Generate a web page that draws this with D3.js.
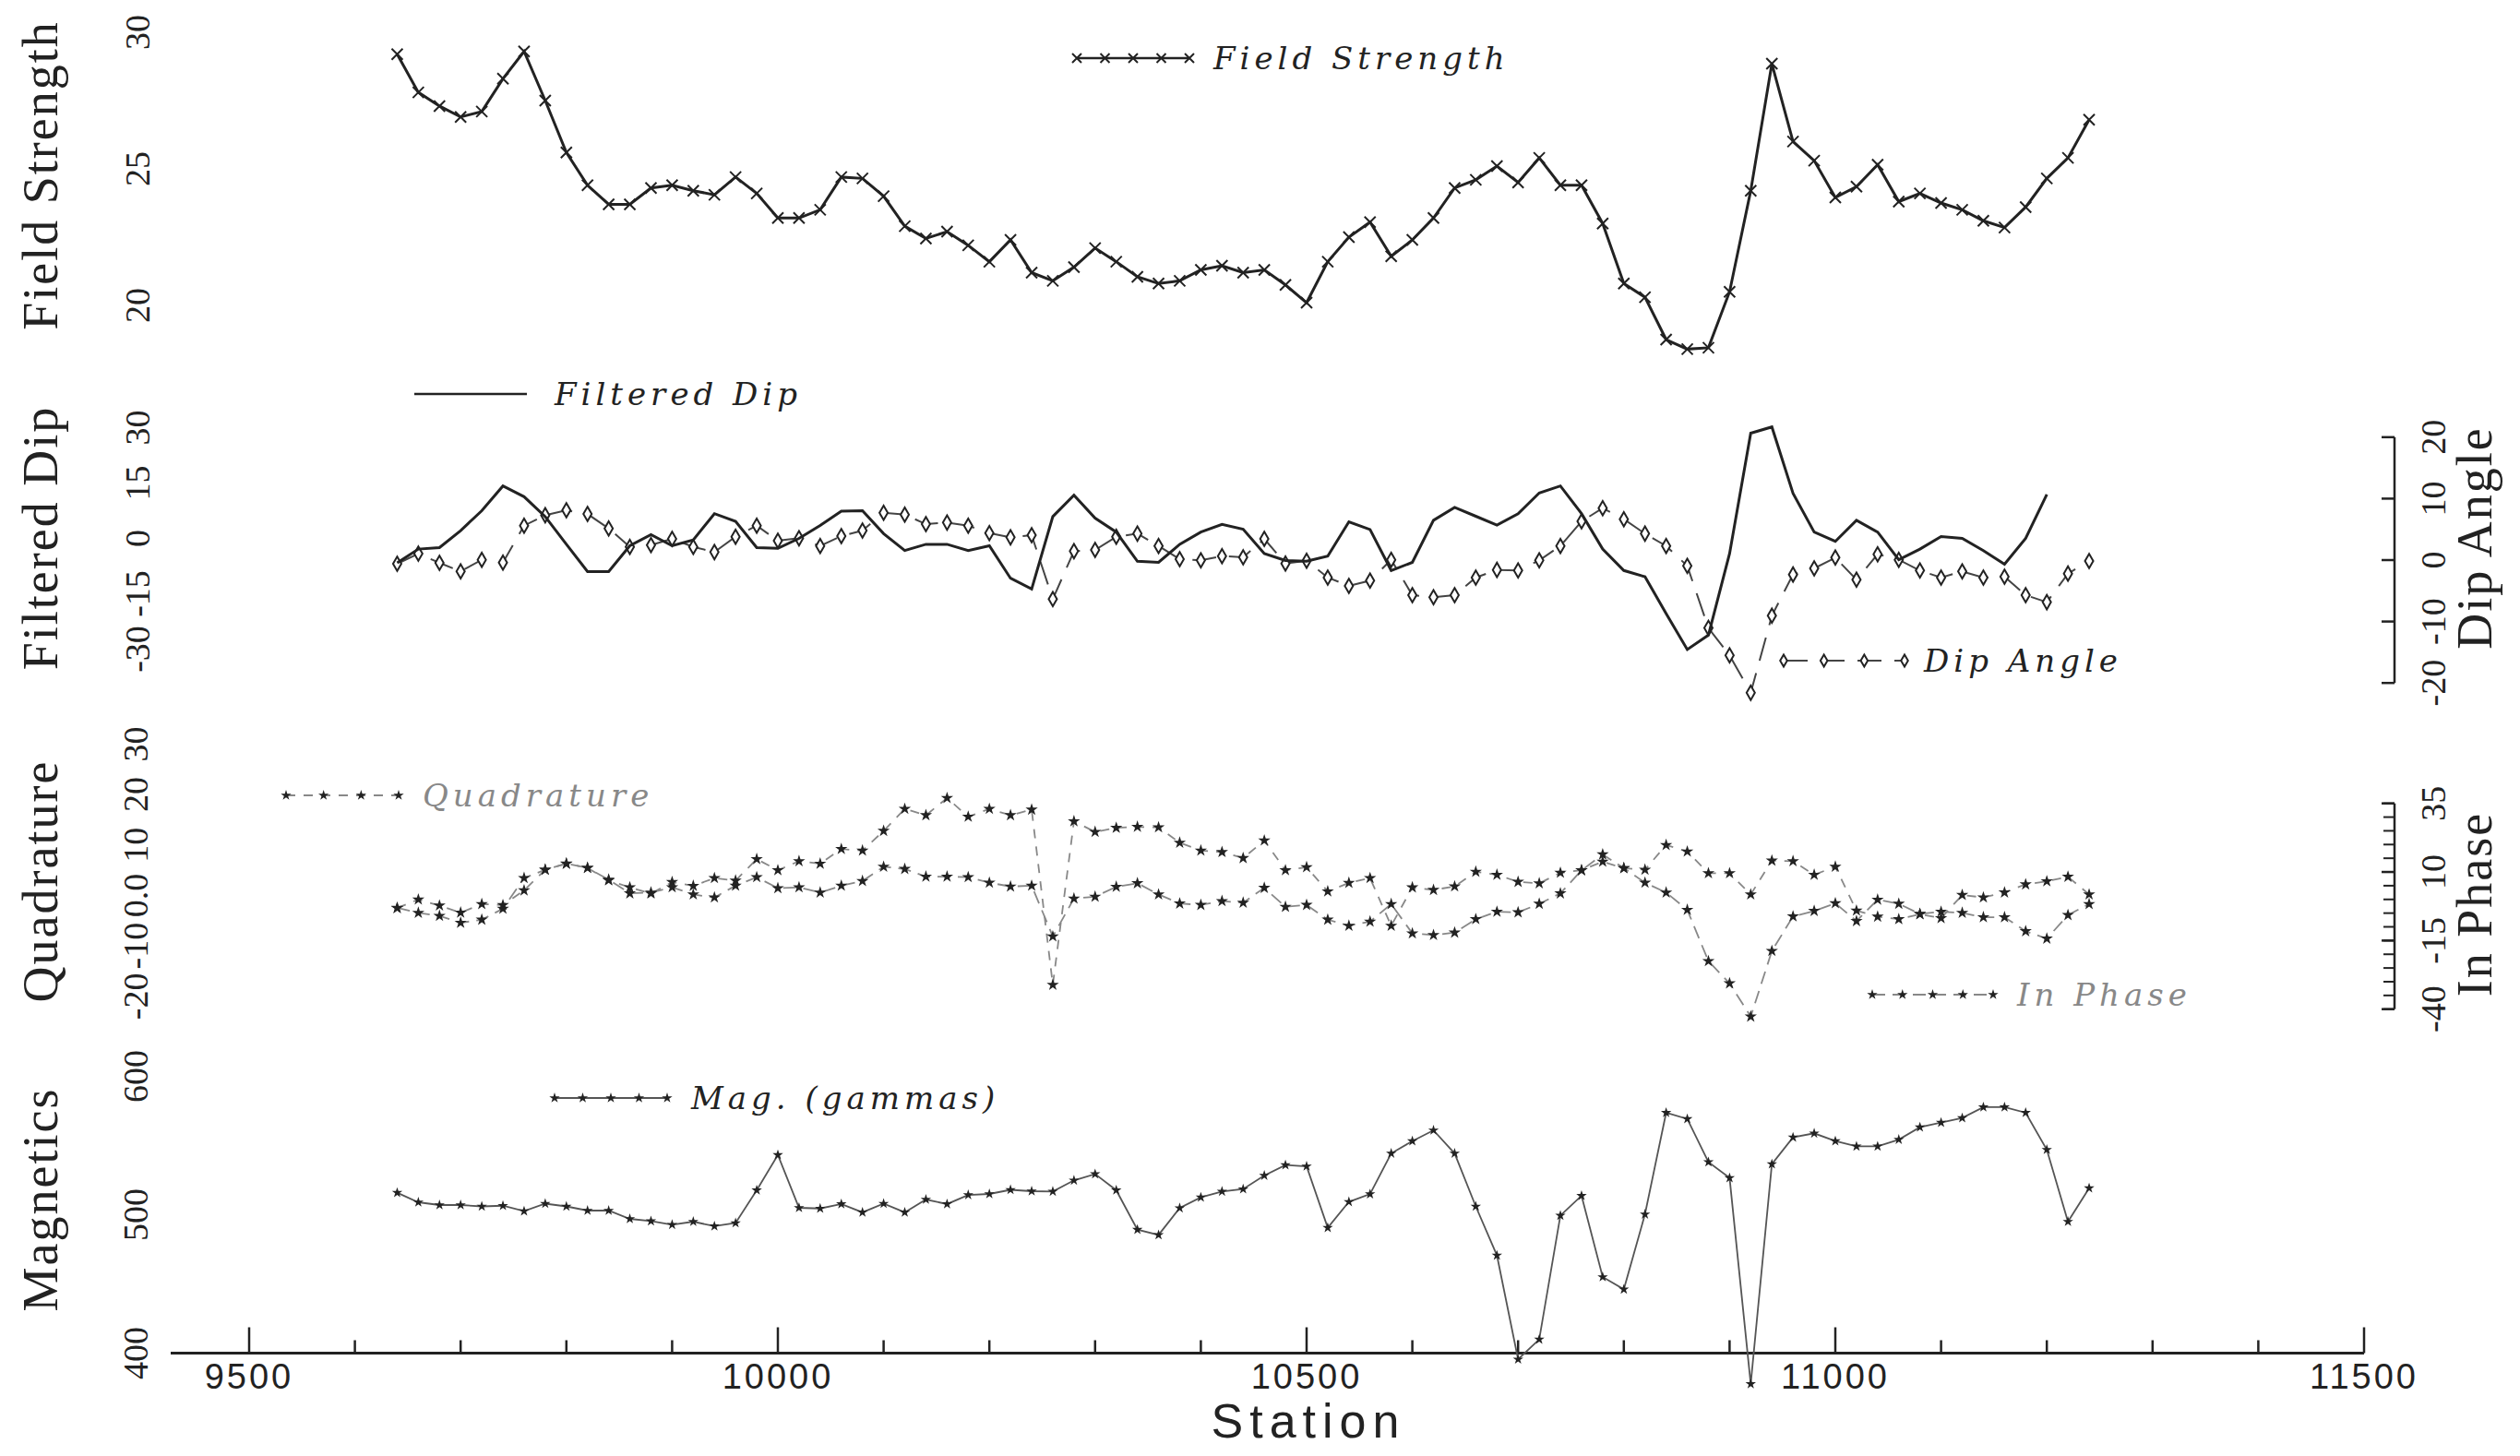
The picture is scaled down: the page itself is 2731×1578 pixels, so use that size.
<!DOCTYPE html>
<html>
<head>
<meta charset="utf-8">
<script src="https://cdn.jsdelivr.net/npm/d3@7"></script>
<style>
  body { margin: 0; background: #fff; }
  svg { display: block; }
</style>
</head>
<body>
<div id="chart"></div>
<script>
// stations along the survey line
const stations = [9640, 9660, 9680, 9700, 9720, 9740, 9760, 9780, 9800, 9820,
  9840, 9860, 9880, 9900, 9920, 9940, 9960, 9980, 10000, 10020,
  10040, 10060, 10080, 10100, 10120, 10140, 10160, 10180, 10200, 10220,
  10240, 10260, 10280, 10300, 10320, 10340, 10360, 10380, 10400, 10420,
  10440, 10460, 10480, 10500, 10520, 10540, 10560, 10580, 10600, 10620,
  10640, 10660, 10680, 10700, 10720, 10740, 10760, 10780, 10800, 10820,
  10840, 10860, 10880, 10900, 10920, 10940, 10960, 10980, 11000, 11020,
  11040, 11060, 11080, 11100, 11120, 11140, 11160, 11180, 11200, 11220, 11240];

const fieldStrength = [29.2, 27.8, 27.3, 26.9, 27.1, 28.3, 29.3, 27.5, 25.6, 24.4,
  23.7, 23.7, 24.3, 24.4, 24.2, 24.05, 24.7, 24.1, 23.2, 23.2,
  23.5, 24.7, 24.65, 24.0, 22.9, 22.45, 22.7, 22.2, 21.6, 22.4,
  21.2, 20.9, 21.4, 22.1, 21.6, 21.05, 20.8, 20.9, 21.3, 21.45,
  21.2, 21.3, 20.75, 20.1, 21.6, 22.5, 23.05, 21.8, 22.4, 23.2,
  24.3, 24.6, 25.1, 24.5, 25.4, 24.4, 24.4, 23.0, 20.8, 20.3,
  18.75, 18.4, 18.45, 20.5, 24.2, 28.85, 26.0, 25.3, 23.95, 24.35,
  25.15, 23.8, 24.1, 23.75, 23.5, 23.1, 22.85, 23.6, 24.65, 25.4, 26.8];

const filteredDip = [-6.6, -2.9, -2.5, 2.1, 7.5, 14.2, 11.3, 5.9, -1.6, -9.0,
  -9.0, -2.0, 1.0, -2.0, -0.4, 6.7, 4.6, -2.5, -2.7, 0.0,
  3.5, 7.4, 7.5, 1.3, -3.3, -1.6, -1.6, -3.3, -2.0, -10.8,
  -13.7, 5.9, 11.7, 5.5, 1.7, -6.2, -6.5, -1.6, 1.7, 3.8,
  2.5, -4.1, -6.0, -6.2, -4.8, 4.5, 2.4, -8.7, -6.5, 4.9,
  8.4, 6.0, 3.6, 6.7, 12.3, 14.2, 6.7, -2.9, -8.7, -10.4,
  -20.4, -30.1, -26.2, -4.1, 28.5, 30.2, 12.2, 1.7, -0.8, 4.9,
  1.7, -5.8, -2.9, 0.5, 0.0, -3.3, -7.0, 0.0, 11.9, null, null];

const dipAngle = [-0.6, 1.05, -0.45, -1.85, 0.05, -0.4, 5.6, 7.3, 8.1, 7.5,
  5.15, 2.15, 2.45, 3.45, 2.15, 1.3, 3.8, 5.6, 3.15, 3.55,
  2.3, 3.9, 4.8, 7.7, 7.4, 5.85, 6.1, 5.6, 4.4, 3.7,
  4.05, -6.35, 1.45, 1.65, 3.8, 4.3, 2.3, 0.15, -0.05, 0.65,
  0.45, 3.45, -0.55, -0.1, -2.85, -4.2, -3.35, 0.05, -5.7, -6.05,
  -5.7, -2.85, -1.6, -1.7, -0.05, 2.3, 6.3, 8.45, 6.65, 4.3,
  2.3, -0.95, -11.05, -15.5, -21.6, -9.05, -2.35, -1.35, 0.4, -3.2,
  0.95, 0.05, -1.7, -2.85, -1.85, -2.85, -2.7, -5.7, -6.85, -2.2, -0.15];

const quadrature = [-2.5, -0.8, -2.0, -3.4, -1.7, -1.9, 1.0, 5.1, 6.3, 5.45,
  3.0, 1.6, 0.4, 2.65, 1.9, 3.45, 2.95, 7.2, 5.0, 6.8,
  6.3, 9.2, 8.9, 12.8, 17.15, 15.9, 19.3, 15.6, 17.15, 15.9,
  17.0, -17.7, 14.7, 12.6, 13.4, 13.6, 13.5, 10.45, 8.9, 8.6,
  7.4, 10.9, 5.0, 5.6, 0.8, 2.5, 3.45, -6.0, 1.6, 1.1,
  1.8, 4.7, 4.1, 2.7, 2.4, 4.5, 5.0, 6.7, 5.4, 5.1,
  10.0, 8.7, 4.4, 4.4, 0.2, 6.9, 6.8, 4.1, 5.7, -3.0,
  -4.2, -4.7, -3.7, -4.5, 0.1, -0.4, 0.6, 2.2, 2.8, 3.7, 0.2];

const inPhase = [-3.1, -4.9, -6.0, -8.5, -7.4, -3.4, 7.8, 10.8, 13.05, 11.5,
  7.2, 2.2, 2.5, 4.4, 1.8, 0.7, 5.0, 8.1, 4.1, 4.4,
  2.5, 5.0, 6.7, 11.9, 11.1, 8.3, 8.3, 8.1, 6.1, 4.7,
  5.0, -13.5, 0.3, 1.0, 4.6, 5.9, 1.8, -1.5, -2.0, -0.6,
  -1.2, 4.2, -2.7, -2.0, -7.4, -9.6, -8.1, -1.7, -12.4, -13.0,
  -12.1, -7.2, -4.5, -4.7, -1.6, 2.2, 10.6, 16.4, 11.4, 6.1,
  2.5, -3.8, -22.5, -30.6, -42.7, -18.8, -6.2, -4.2, -1.4, -7.9,
  -0.1, -1.6, -5.3, -4.5, -4.9, -6.5, -6.5, -11.6, -14.3, -5.7, -1.7];

const magnetics = [515.9, 509, 507, 507, 506, 506.5, 502.6, 508, 506, 503,
  503, 497, 495.4, 492.8, 495, 491.7, 494, 517.7, 543.2, 505,
  504.5, 507.7, 501.7, 508, 501.7, 511, 507.7, 514.3, 515, 518,
  517, 516.8, 524.8, 529.4, 517.7, 489.2, 485.4, 504.8, 512.6, 516.8,
  518.5, 528.3, 535.9, 535, 490.6, 509.3, 514.9, 544.3, 553.2, 561,
  544.3, 506, 470.6, 395.5, 409.9, 499.4, 513.7, 455, 446.1, 500.3,
  573.7, 569.2, 538.1, 526.6, 377.7, 536.6, 555.9, 558.8, 553.2, 549.4,
  549.4, 554.3, 563.2, 566.6, 569.9, 577.7, 577.7, 573.7, 547, 495, 519.2];

const stationTicks = [9500, 10000, 10500, 11000, 11500];
const fsTicks = [20, 25, 30];
const fdTicks = [-30, -15, 0, 15, 30];
const daTicks = [-20, -10, 0, 10, 20];
const quadTicks = [-20, -10, 0, 10, 20, 30];
const ipTicks = [-40, -15, 10, 35];
const magTicks = [400, 500, 600];

const W = 2731, H = 1578;
const ink = "#222";

const svg = d3.select("#chart").append("svg")
  .attr("width", W).attr("height", H)
  .style("font-family", "'Liberation Serif', serif");

const x = d3.scaleLinear().domain([9500, 11500]).range([270, 2562]);

const yFS = d3.scaleLinear().domain([20, 30]).range([331, 35]);
const yFD = d3.scaleLinear().domain([-30, 30]).range([703.5, 463.5]);
const yDA = d3.scaleLinear().domain([-20, 20]).range([740.2, 473.8]);
const yQ = d3.scaleLinear().domain([-20, 30]).range([1079.9, 806.4]);
const yIP = d3.scaleLinear().domain([-40, 35]).range([1093.7, 870.7]);
const yMag = d3.scaleLinear().domain([400, 600]).range([1466.5, 1166.5]);

// ---- x axis ----
const xAxisY = 1466.5;
const xg = svg.append("g").attr("transform", `translate(0,${xAxisY})`);
xg.append("line").attr("x1", 185).attr("x2", x(11500))
  .attr("stroke", ink).attr("stroke-width", 3);
xg.selectAll(".minor").data(d3.range(9500, 11501, 100)).enter().append("line")
  .attr("x1", d => x(d)).attr("x2", d => x(d))
  .attr("y1", 0).attr("y2", d => d % 500 === 0 ? -28 : -14)
  .attr("stroke", ink).attr("stroke-width", 2.5);
xg.selectAll(".lab").data(stationTicks).enter().append("text")
  .attr("x", d => x(d)).attr("y", 38)
  .attr("text-anchor", "middle")
  .style("font-family", "'Liberation Sans', sans-serif")
  .style("font-size", "38px").style("letter-spacing", "3px")
  .attr("fill", ink).text(d => d);
svg.append("text").attr("x", 1418).attr("y", 1558)
  .attr("text-anchor", "middle")
  .style("font-family", "'Liberation Sans', sans-serif")
  .style("font-size", "52px").style("letter-spacing", "7px")
  .attr("fill", ink).text("Station");

// ---- helpers ----
function vTitle(txt, cx, cy, size) {
  svg.append("text")
    .attr("transform", `translate(${cx},${cy}) rotate(-90)`)
    .attr("text-anchor", "middle")
    .style("font-size", size + "px").style("letter-spacing", "2px")
    .attr("fill", ink).text(txt);
}

function vTicks(scale, ticks, baseX, fmt, axisX, tickDir) {
  const g = svg.append("g");
  g.selectAll("text").data(ticks).enter().append("text")
    .attr("transform", d => `translate(${baseX},${scale(d)}) rotate(-90)`)
    .attr("text-anchor", "middle")
    .style("font-size", "38px")
    .attr("fill", ink).text(fmt);
  if (axisX != null) {
    const r = scale.range();
    g.append("line").attr("x1", axisX).attr("x2", axisX)
      .attr("y1", r[0]).attr("y2", r[1])
      .attr("stroke", ink).attr("stroke-width", 2.5);
    g.selectAll("line.t").data(ticks).enter().append("line")
      .attr("x1", axisX).attr("x2", axisX + tickDir * 14)
      .attr("y1", d => scale(d)).attr("y2", d => scale(d))
      .attr("stroke", ink).attr("stroke-width", 2.5);
  }
}

function series(values) {
  return stations.map((s, i) => ({ s: s, v: values[i] })).filter(d => d.v != null);
}

function drawLine(values, scale, stroke, width, dash) {
  const pts = series(values);
  svg.append("path").datum(pts)
    .attr("fill", "none").attr("stroke", stroke)
    .attr("stroke-width", width)
    .attr("stroke-dasharray", dash || null)
    .attr("d", d3.line().x(d => x(d.s)).y(d => scale(d.v)));
  return pts;
}

function crossMarks(g, pts, px, py, r, stroke, w) {
  g.selectAll(null).data(pts).enter().append("path")
    .attr("d", d => {
      const cx = px(d), cy = py(d);
      return `M${cx - r},${cy - r}L${cx + r},${cy + r}M${cx - r},${cy + r}L${cx + r},${cy - r}`;
    })
    .attr("stroke", stroke).attr("stroke-width", w).attr("fill", "none");
}

function starMarks(g, pts, px, py, size, fill) {
  g.selectAll(null).data(pts).enter().append("path")
    .attr("transform", d => `translate(${px(d)},${py(d)})`)
    .attr("d", d3.symbol().type(d3.symbolStar).size(size))
    .attr("fill", fill);
}

function diamondMarks(g, pts, px, py, size) {
  g.selectAll(null).data(pts).enter().append("path")
    .attr("transform", d => `translate(${px(d)},${py(d)})`)
    .attr("d", d3.symbol().type(d3.symbolDiamond).size(size))
    .attr("fill", "#fff").attr("stroke", ink).attr("stroke-width", 2);
}

function legendText(txt, lx, ly, color) {
  svg.append("text").attr("x", lx).attr("y", ly + 12)
    .style("font-family", "'DejaVu Serif', serif")
    .style("font-style", "italic")
    .style("font-size", "34px").style("letter-spacing", "5px")
    .attr("fill", color || ink).text(txt);
}

// ---- panel 1: field strength ----
vTitle("Field Strength", 62, 190, 54);
vTicks(yFS, fsTicks, 162, d => d, null, 0);
const fsPts = drawLine(fieldStrength, yFS, ink, 3);
crossMarks(svg.append("g"), fsPts, d => x(d.s), d => yFS(d.v), 6, ink, 2);
{
  const lx0 = 1167, lx1 = 1289, ly = 63;
  svg.append("line").attr("x1", lx0).attr("x2", lx1).attr("y1", ly).attr("y2", ly)
    .attr("stroke", ink).attr("stroke-width", 2.5);
  const lp = d3.range(5).map(k => lx0 + k * (lx1 - lx0) / 4);
  crossMarks(svg.append("g"), lp, d => d, () => ly, 5, ink, 2);
  legendText("Field Strength", 1315, ly);
}

// ---- panel 2: filtered dip + dip angle ----
vTitle("Filtered Dip", 62, 583, 54);
vTicks(yFD, fdTicks, 162, d => d, null, 0);
vTitle("Dip Angle", 2700, 583, 54);
vTicks(yDA, daTicks, 2650, d => d, 2595, -1);
const daPts = drawLine(dipAngle, yDA, "#444", 2, "26,14");
diamondMarks(svg.append("g"), daPts, d => x(d.s), d => yDA(d.v), 70);
drawLine(filteredDip, yFD, ink, 3);
{
  const lx0 = 449, lx1 = 571, ly = 427;
  svg.append("line").attr("x1", lx0).attr("x2", lx1).attr("y1", ly).attr("y2", ly)
    .attr("stroke", ink).attr("stroke-width", 2.5);
  legendText("Filtered Dip", 601, ly);
  const dx0 = 1933, dx1 = 2064, dy = 716;
  svg.append("line").attr("x1", dx0).attr("x2", dx1).attr("y1", dy).attr("y2", dy)
    .attr("stroke", "#444").attr("stroke-width", 2).attr("stroke-dasharray", "26,14");
  diamondMarks(svg.append("g"), d3.range(4).map(k => dx0 + k * (dx1 - dx0) / 3), d => d, () => dy, 50);
  legendText("Dip Angle", 2085, dy);
}

// ---- panel 3: quadrature + in phase ----
vTitle("Quadrature", 62, 955, 54);
vTicks(yQ, quadTicks, 160, d => d === 0 ? "0.0" : d, null, 0);
vTitle("In Phase", 2700, 980, 54);
vTicks(yIP, ipTicks, 2650, d => d, 2595, -1);
{
  const g = svg.append("g");
  g.selectAll("line").data(d3.range(-40, 36, 5)).enter().append("line")
    .attr("x1", 2595).attr("x2", 2583)
    .attr("y1", d => yIP(d)).attr("y2", d => yIP(d))
    .attr("stroke", ink).attr("stroke-width", 2);
}
const qPts = drawLine(quadrature, yQ, "#888", 1.8, "10,9");
const ipPts = drawLine(inPhase, yIP, "#888", 1.8, "14,8");
starMarks(svg.append("g"), qPts, d => x(d.s), d => yQ(d.v), 55, ink);
starMarks(svg.append("g"), ipPts, d => x(d.s), d => yIP(d.v), 55, ink);
{
  const lx0 = 310, lx1 = 432, ly = 862;
  svg.append("line").attr("x1", lx0).attr("x2", lx1).attr("y1", ly).attr("y2", ly)
    .attr("stroke", "#888").attr("stroke-width", 2).attr("stroke-dasharray", "10,9");
  starMarks(svg.append("g"), d3.range(4).map(k => lx0 + k * (lx1 - lx0) / 3), d => d, () => ly, 40, ink);
  legendText("Quadrature", 458, ly, "#888");
  const px0 = 2029, px1 = 2160, py = 1078;
  svg.append("line").attr("x1", px0).attr("x2", px1).attr("y1", py).attr("y2", py)
    .attr("stroke", "#888").attr("stroke-width", 2).attr("stroke-dasharray", "14,8");
  starMarks(svg.append("g"), d3.range(5).map(k => px0 + k * (px1 - px0) / 4), d => d, () => py, 40, ink);
  legendText("In Phase", 2186, py, "#888");
}

// ---- panel 4: magnetics ----
vTitle("Magnetics", 62, 1300, 54);
vTicks(yMag, magTicks, 160, d => d, null, 0);
const magPts = drawLine(magnetics, yMag, "#555", 1.8);
starMarks(svg.append("g"), magPts, d => x(d.s), d => yMag(d.v), 40, ink);
{
  const lx0 = 601, lx1 = 723, ly = 1190;
  svg.append("line").attr("x1", lx0).attr("x2", lx1).attr("y1", ly).attr("y2", ly)
    .attr("stroke", "#555").attr("stroke-width", 2);
  starMarks(svg.append("g"), d3.range(5).map(k => lx0 + k * (lx1 - lx0) / 4), d => d, () => ly, 40, ink);
  legendText("Mag. (gammas)", 749, ly);
}
</script>
</body>
</html>
